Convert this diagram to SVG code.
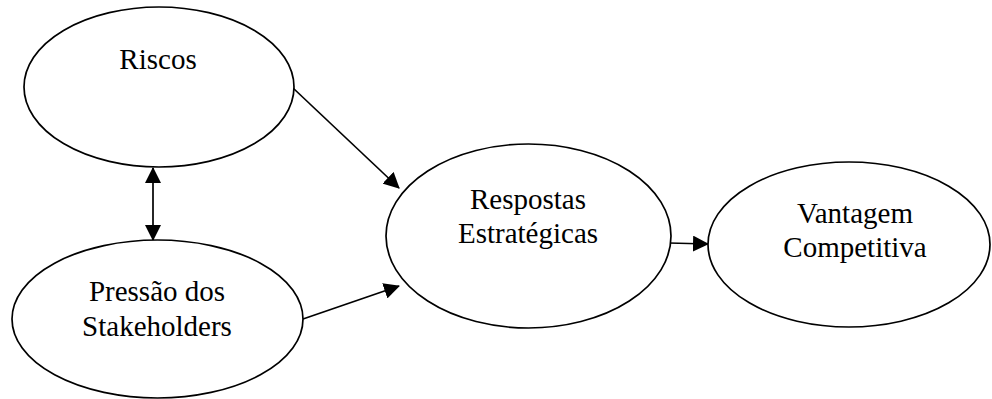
<svg xmlns="http://www.w3.org/2000/svg" width="992" height="399" viewBox="0 0 992 399">
  <style>
    .node ellipse { fill: #ffffff; stroke: #000000; stroke-width: 1.7; }
    .node text { font-family: "Liberation Serif", "Times New Roman", serif; font-size: 29px; fill: #000000; text-anchor: middle; }
    .edge { stroke: #000000; stroke-width: 1.7; fill: none; marker-end: url(#arrow); }
  </style>
  <defs>
    <marker id="arrow" markerUnits="userSpaceOnUse" markerWidth="16" markerHeight="16" viewBox="0 0 16 16" refX="15" refY="8" orient="auto-start-reverse">
      <path d="M0,0 L16,8 L0,16 Z" fill="#000000"/>
    </marker>
  </defs>
  <rect width="992" height="399" fill="#ffffff"/>

  <g id="connectors">
    <line class="edge" x1="293" y1="88" x2="399" y2="188"/>
    <line class="edge" x1="303" y1="319" x2="399" y2="286"/>
    <line class="edge" x1="669" y1="243" x2="708" y2="244"/>
    <line class="edge" x1="153" y1="168" x2="153" y2="240" marker-start="url(#arrow)"/>
  </g>

  <g id="riscos" class="node">
    <ellipse cx="159" cy="87" rx="135" ry="80"/>
    <text x="158" y="69">Riscos</text>
  </g>

  <g id="pressao" class="node">
    <ellipse cx="157.5" cy="319" rx="145.5" ry="79"/>
    <text x="157" y="301">Pressão dos</text>
    <text x="157" y="336">Stakeholders</text>
  </g>

  <g id="respostas" class="node">
    <ellipse cx="528.5" cy="236" rx="142.5" ry="92"/>
    <text x="528" y="209">Respostas</text>
    <text x="528" y="243">Estratégicas</text>
  </g>

  <g id="vantagem" class="node">
    <ellipse cx="849" cy="244.5" rx="141" ry="82.5"/>
    <text x="855" y="223">Vantagem</text>
    <text x="855" y="257">Competitiva</text>
  </g>
</svg>
